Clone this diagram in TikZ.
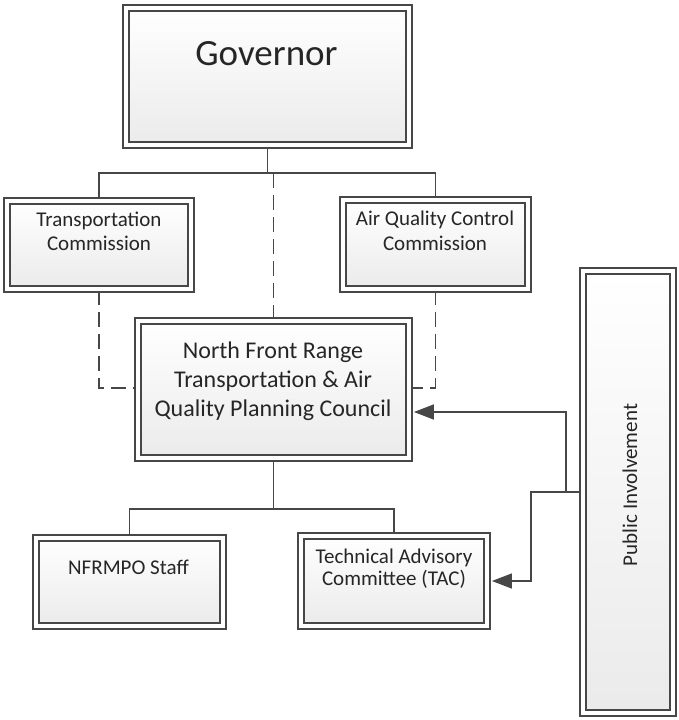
\documentclass[tikz,border=0pt]{standalone}
\usepackage{fontspec}
\setmainfont{Carlito}
\usepackage{tikz}
\usetikzlibrary{arrows.meta,backgrounds}

\definecolor{linegray}{HTML}{474747}
\definecolor{textgray}{HTML}{262626}

\tikzset{
    orgbox/.style={draw=linegray, line width=1.8pt, double=white, double distance=4pt,
        top color=white, bottom color=black!8, inner sep=0pt},
    boxtext/.style={text=textgray, align=center, inner sep=0pt},
    conn/.style={draw=linegray, line width=1.5pt},
    dashconn/.style={conn, dash pattern=on 15pt off 7pt},
    arrowconn/.style={conn, -{Triangle[length=20pt,width=15pt]}, shorten >=3.8pt},
}

\begin{document}
\begin{tikzpicture}[x=1pt, y=-1pt]
        \useasboundingbox (0,0) rectangle (678,720);
        \foreach \n/\x/\y/\w/\h in {gov/267.5/76.5/283.4/137.4, tc/99/245/184.4/88.4,
                aq/435.5/244.5/185.4/89.4, nfr/273.5/389.5/271.4/137.4,
                staff/129.5/582/187.4/88.4, tac/394/581/186.4/90.4, pi/628/492/90.4/442.4}{
            \node[orgbox, minimum width=\w pt, minimum height=\h pt] (\n) at (\x,\y) {};
        }
        \node[boxtext, font=\fontsize{37}{44}\selectfont] (govtext) at (266.5,54) {Governor};
        \node[boxtext, font=\fontsize{21}{24}\selectfont] (tctext) at (99,231) {Transportation\\Commission};
        \node[boxtext, font=\fontsize{21}{25}\selectfont] (aqtext) at (435,231) {Air Quality Control\\Commission};
        \node[boxtext, font=\fontsize{24}{29}\selectfont] (nfrtext) at (273,381) {North Front Range\\Transportation \& Air\\Quality Planning Council};
        \node[boxtext, font=\fontsize{21}{24}\selectfont] (stafftext) at (128.5,567) {NFRMPO Staff};
        \node[boxtext, font=\fontsize{21}{22}\selectfont] (tactext) at (394,569) {Technical Advisory\\Committee (TAC)};
        \node[boxtext, font=\fontsize{21}{24}\selectfont, rotate=90] (pitext) at (630,485) {Public Involvement};

        \coordinate (govbus) at (0,173);
        \coordinate (sidebus) at (0,388);
        \coordinate (nfrbus) at (0,509);
        \coordinate (piturn) at (566,412);
        \coordinate (tacturn) at (531,581);

        \begin{scope}[on background layer]
            \path[conn] (gov.south) -- (gov.south |- govbus);
            \path[conn] (tc.north) |- (aq.north |- govbus) -- (aq.north);
            \path[dashconn] (nfr.north |- govbus) -- (nfr.north);
            \path[dashconn] (tc.south) |- (nfr.west |- sidebus);
            \path[dashconn] (aq.south) |- (nfr.east |- sidebus);
            \path[conn] (nfr.south) -- (nfr.south |- nfrbus);
            \path[conn] (staff.north) |- (tac.north |- nfrbus) -- (tac.north);
            \path[arrowconn] (pi.west) -| (piturn) -- (nfr.east |- piturn);
            \path[arrowconn] (pi.west) -| (tacturn) -- (tac.east |- tacturn);
        \end{scope}
    \end{tikzpicture}
\end{document}
